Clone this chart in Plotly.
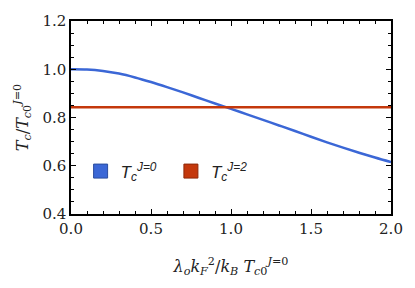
import plotly.graph_objects as go

x_vals = [0.0, 0.1, 0.2, 0.3, 0.4, 0.5, 0.6, 0.7, 0.8, 0.9, 1.0,
          1.1, 1.2, 1.3, 1.4, 1.5, 1.6, 1.7, 1.8, 1.9, 2.0]
tc_j0 = [1.0, 0.999, 0.993, 0.982, 0.966, 0.947, 0.926, 0.904, 0.881, 0.858, 0.836,
         0.813, 0.790, 0.767, 0.744, 0.720, 0.697, 0.675, 0.654, 0.634, 0.615]
tc_j2_value = 0.843
x_range = [0.0, 2.0]
y_range = [0.4, 1.2]
x_ticks = [0.0, 0.5, 1.0, 1.5, 2.0]
y_ticks = [0.4, 0.6, 0.8, 1.0, 1.2]

blue = "#3b67d6"
red = "#c4380c"
serif = "DejaVu Serif"
sans = "Liberation Sans"

fig = go.Figure()
fig.add_trace(go.Scatter(x=x_vals, y=tc_j0, mode="lines", line=dict(color=blue, width=2.5, shape="spline"),
                         showlegend=False, hoverinfo="skip"))
fig.add_trace(go.Scatter(x=x_range, y=[tc_j2_value, tc_j2_value], mode="lines",
                         line=dict(color=red, width=2.5), showlegend=False, hoverinfo="skip"))
# legend entries
fig.add_trace(go.Scatter(x=[None], y=[None], mode="markers",
                         name="<i>T<sub>c</sub><sup>J=0</sup></i>\u00a0\u00a0",
                         marker=dict(symbol="square", size=14, color=blue, line=dict(color="#2a4c9e", width=1))))
fig.add_trace(go.Scatter(x=[None], y=[None], mode="markers", name="<i>T<sub>c</sub><sup>J=2</sup></i>",
                         marker=dict(symbol="square", size=14, color=red, line=dict(color="#8e2808", width=1))))

axis_common = dict(
    showline=True, linecolor="black", linewidth=1.5, mirror="ticks",
    ticks="inside", ticklen=5, tickwidth=1, tickcolor="black",
    showgrid=False, zeroline=False,
    tickfont=dict(family=serif, size=15, color="#222"),
)

fig.update_xaxes(range=x_range, tickvals=x_ticks, ticktext=[f"{v:.1f}" for v in x_ticks],
                 minor=dict(ticks="inside", dtick=0.1, ticklen=3, tickcolor="black", tick0=0),
                 title=dict(text="<i>λ<sub>o</sub>k<sub>F</sub></i><sup>2</sup>/<i>k<sub>B</sub> T<sub>c</sub></i><sub>0</sub><sup><i>J</i>=0</sup>",
                            font=dict(family=serif, size=16, color="#222"), standoff=24),
                 **axis_common)
fig.update_yaxes(range=y_range, tickvals=y_ticks, ticktext=[f"{v:.1f}" for v in y_ticks],
                 minor=dict(ticks="inside", dtick=0.05, ticklen=3, tickcolor="black", tick0=0),
                 title=dict(text="<i>T<sub>c</sub></i>/<i>T<sub>c</sub></i><sub>0</sub><sup><i>J</i>=0</sup>",
                            font=dict(family=serif, size=16, color="#222"), standoff=10),
                 **axis_common)

fig.update_layout(
    width=415, height=288,
    margin=dict(l=71, r=14, t=12, b=74),
    plot_bgcolor="white", paper_bgcolor="white",
    legend=dict(orientation="h", x=0.03, y=0.22, xanchor="left", yanchor="middle",
                font=dict(family=sans, size=17, color="#222"),
                bgcolor="rgba(0,0,0,0)", itemwidth=30, tracegroupgap=0),
)

fig.write_html("out.html", config={"displayModeBar": False},
               post_script="document.body.style.margin='0';")
